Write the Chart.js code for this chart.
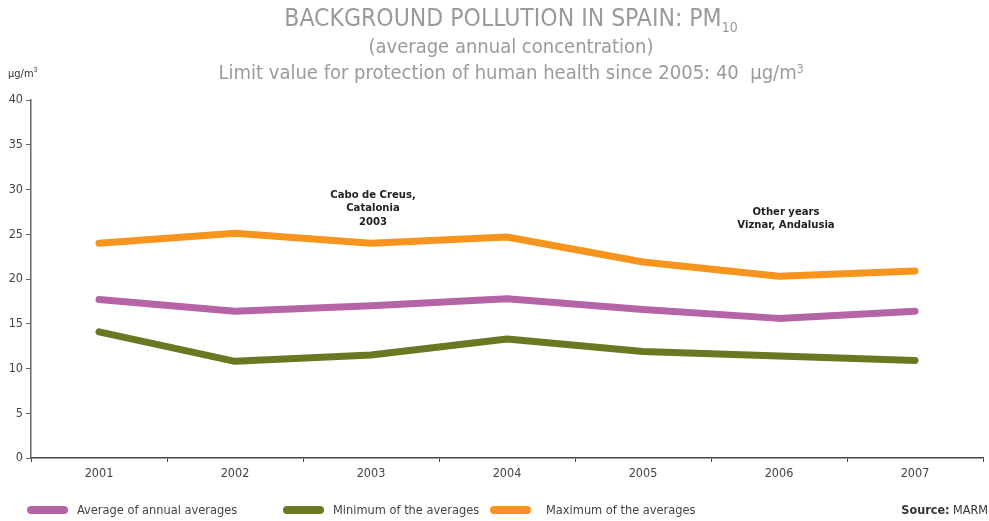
<!DOCTYPE html>
<html>
<head>
<meta charset="utf-8">
<script src="https://cdn.jsdelivr.net/npm/chart.js"></script>
<style>
    body { margin: 0; background: #fff; font-family: "DejaVu Sans Condensed", "Liberation Sans Narrow", "Roboto", sans-serif; }
    #wrap { position: relative; width: 989px; height: 521px; overflow: hidden; }
    #myChart { position: absolute; left: 0; top: 0; }
    .title { position: absolute; left: 0; width: 1022px; text-align: center; color: #9a9a9a; white-space: nowrap; }
    .t1 { top: 3px; font-size: 24.5px; }
    .t1 sub { font-size: 14px; vertical-align: -6px; }
    .t2 { top: 34px; font-size: 20px; }
    .t3 { top: 60px; font-size: 20px; }
    .t3 sup { font-size: 12px; vertical-align: 6px; }
    .unit { position: absolute; left: 8px; top: 66px; font-size: 11px; color: #333; }
    .unit sup { font-size: 7px; }
    .legend { position: absolute; top: 502px; font-size: 12.7px; color: #444; white-space: nowrap; }
    .swatch { position: absolute; top: 4px; width: 41px; height: 8px; border-radius: 4px; }
    .source { position: absolute; right: 1px; top: 502px; font-size: 12.5px; color: #333; }
</style>
</head>
<body>
<div id="wrap">
    <canvas id="myChart" width="989" height="521"></canvas>
    <div class="title t1">BACKGROUND POLLUTION IN SPAIN: PM<sub>10</sub></div>
    <div class="title t2">(average annual concentration)</div>
    <div class="title t3">Limit value for protection of human health since 2005: 40&nbsp; µg/m<sup>3</sup></div>
    <div class="unit">µg/m<sup>3</sup></div>

    <div class="legend" style="left:27px"><span class="swatch" style="left:0;background:#b565a7"></span><span style="margin-left:50px">Average of annual averages</span></div>
    <div class="legend" style="left:283px"><span class="swatch" style="left:0;background:#6b7721"></span><span style="margin-left:50px">Minimum of the averages</span></div>
    <div class="legend" style="left:490px"><span class="swatch" style="left:0;background:#f7941d"></span><span style="margin-left:56px">Maximum of the averages</span></div>
    <div class="source"><b>Source:</b> MARM</div>
</div>

<script>
    const years = ['2001', '2002', '2003', '2004', '2005', '2006', '2007']
    const averageValues = [17.7, 16.4, 17.0, 17.8, 16.6, 15.6, 16.4]
    const minimumValues = [14.1, 10.8, 11.5, 13.3, 11.9, 11.4, 10.9]
    const maximumValues = [24.0, 25.1, 24.0, 24.7, 21.9, 20.3, 20.9]
    const yTicks = [0, 5, 10, 15, 20, 25, 30, 35, 40]

    // notes placed over the chart (category index, y value)
    const notes = [
        { at: 2, y: 29.4, lines: ['Cabo de Creus,', 'Catalonia', '2003'] },
        { at: 5, y: 27.5, lines: ['Other years', 'Viznar, Andalusia'] }
    ]

    const fontFamily = '"DejaVu Sans Condensed", "Liberation Sans Narrow", Roboto, sans-serif'

    const notesPlugin = {
        id: 'notes',
        afterDatasetsDraw(chart) {
            const ctx = chart.ctx
            const x = chart.scales.x
            const y = chart.scales.y
            ctx.save()
            ctx.fillStyle = '#222'
            ctx.font = '600 11.2px ' + fontFamily
            ctx.textAlign = 'center'
            ctx.textBaseline = 'middle'
            notes.forEach(n => {
                let px = x.getPixelForValue(n.at) + (n.at == 5 ? 7 : 2)
                let py = y.getPixelForValue(n.y)
                n.lines.forEach((l, i) => ctx.fillText(l, px, py + i * 13.5))
            })
            ctx.restore()
        }
    }

    const lineStyle = (color) => ({
        borderColor: color,
        backgroundColor: color,
        borderWidth: 7,
        borderCapStyle: 'round',
        borderJoinStyle: 'round',
        pointRadius: 0,
        tension: 0
    })

    const chartData = {
        labels: years,
        datasets: [
            { label: 'Average of annual averages', data: averageValues, ...lineStyle('#b565a7') },
            { label: 'Minimum of the averages', data: minimumValues, ...lineStyle('#6b7721') },
            { label: 'Maximum of the averages', data: maximumValues, ...lineStyle('#f7941d') }
        ]
    }

    new Chart(document.getElementById('myChart'), {
        type: 'line',
        data: chartData,
        plugins: [notesPlugin],
        options: {
            responsive: false,
            animation: false,
            layout: { padding: { left: 0, top: 100, right: 6, bottom: 40 } },
            plugins: {
                legend: { display: false },
                title: { display: false },
                tooltip: { enabled: false }
            },
            scales: {
                x: {
                    offset: true,
                    afterFit: s => { s.height = 23 },
                    grid: { offset: true, drawOnChartArea: false, tickLength: 4, color: '#444' },
                    border: { color: '#444', width: 1.5 },
                    ticks: { color: '#444', padding: 4, font: { family: fontFamily, size: 12.5 } }
                },
                y: {
                    min: 0,
                    max: 40,
                    afterFit: s => { s.width = 31 },
                    afterBuildTicks: s => { s.ticks = yTicks.map(v => ({ value: v })) },
                    grid: { drawOnChartArea: false, tickLength: 5, color: '#666' },
                    border: { color: '#666', width: 1.5 },
                    ticks: { color: '#444', padding: 3, font: { family: fontFamily, size: 12.5 } }
                }
            }
        }
    })
</script>
</body>
</html>
